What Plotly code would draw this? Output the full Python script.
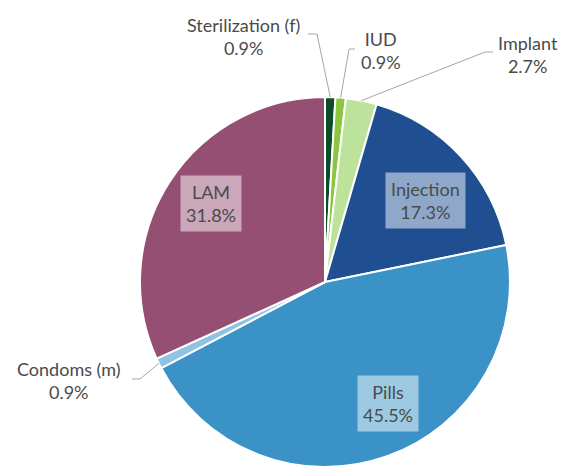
import math
import plotly.graph_objects as go

# ---- data ----
methods = ["Sterilization (f)", "IUD", "Implant", "Injection", "Pills", "Condoms (m)", "LAM"]
shares = [0.9, 0.9, 2.7, 17.3, 45.5, 0.9, 31.8]
colors = ["#0b4d24", "#8cc63f", "#bde29b", "#1f4e91", "#3a92c6", "#8fc3e3", "#944f72"]

OFF = 8                      # default page body margin
W, H = 574 - OFF, 467 - OFF  # figure size so it fits the window
CX, CY, R = 325, 282, 185    # pie centre / radius in screenshot pixels

def px(x):
    return (x - OFF) / W

def py(y):
    return 1 - (y - OFF) / H

fig = go.Figure(go.Pie(
    labels=methods,
    values=shares,
    sort=False,
    direction="clockwise",
    rotation=0,
    marker=dict(colors=colors, line=dict(color="white", width=2)),
    textinfo="none",
    hoverinfo="label+percent",
    showlegend=False,
    domain=dict(x=[px(CX - R), px(CX + R)], y=[0, 2 * R / H]),
))

# mid-angle of each slice (degrees clockwise from 12 o'clock)
total = sum(shares)
mids = []
acc = 0
for v in shares:
    mids.append((acc + v / 2) / total * 360)
    acc += v

def polar(angle_deg, rad):
    a = math.radians(angle_deg)
    return CX + rad * math.sin(a), CY - rad * math.cos(a)

FONT = dict(family="Lato, 'Open Sans', sans-serif", size=18, color="#4a4a4a")
annotations = []
shapes = []

# inside labels with translucent boxes: (index, angle offset, radius fraction)
inside = [(3, 3.5, 0.70), (4, -7.8, 0.74), (6, 1.9, 0.75)]
for i, dang, frac in inside:
    x, y = polar(mids[i] + dang, R * frac)
    annotations.append(dict(
        x=px(x), y=py(y), xref="paper", yref="paper",
        text=f"{methods[i]}<br>{shares[i]:.1f}%",
        showarrow=False, font=FONT, align="center",
        bgcolor="rgba(255,255,255,0.5)", borderpad=5,
        xanchor="center", yanchor="middle",
    ))

# outside labels: (index, elbow px, line end px, text centre px)
outside = [
    (0, (317, 34), (308, 34), (243, 36)),
    (1, (349, 49), (355, 49), (381, 50)),
    (2, (485, 52), (493, 52), (528, 54)),
    (5, (140, 379), (132, 379), (69, 380)),
]
for i, elbow, end, tc in outside:
    sx, sy = polar(mids[i], R)
    shapes.append(dict(type="line", xref="paper", yref="paper",
                       x0=px(sx), y0=py(sy), x1=px(elbow[0]), y1=py(elbow[1]),
                       line=dict(color="#a6a6a6", width=1)))
    shapes.append(dict(type="line", xref="paper", yref="paper",
                       x0=px(elbow[0]), y0=py(elbow[1]), x1=px(end[0]), y1=py(end[1]),
                       line=dict(color="#a6a6a6", width=1)))
    annotations.append(dict(
        x=px(tc[0]), y=py(tc[1]), xref="paper", yref="paper",
        text=f"{methods[i]}<br>{shares[i]:.1f}%",
        showarrow=False, font=FONT, align="center",
        xanchor="center", yanchor="middle",
    ))

fig.update_layout(
    width=W, height=H,
    margin=dict(l=0, r=0, t=0, b=0),
    paper_bgcolor="white", plot_bgcolor="white",
    annotations=annotations, shapes=shapes,
)

fig.write_html("out.html")
